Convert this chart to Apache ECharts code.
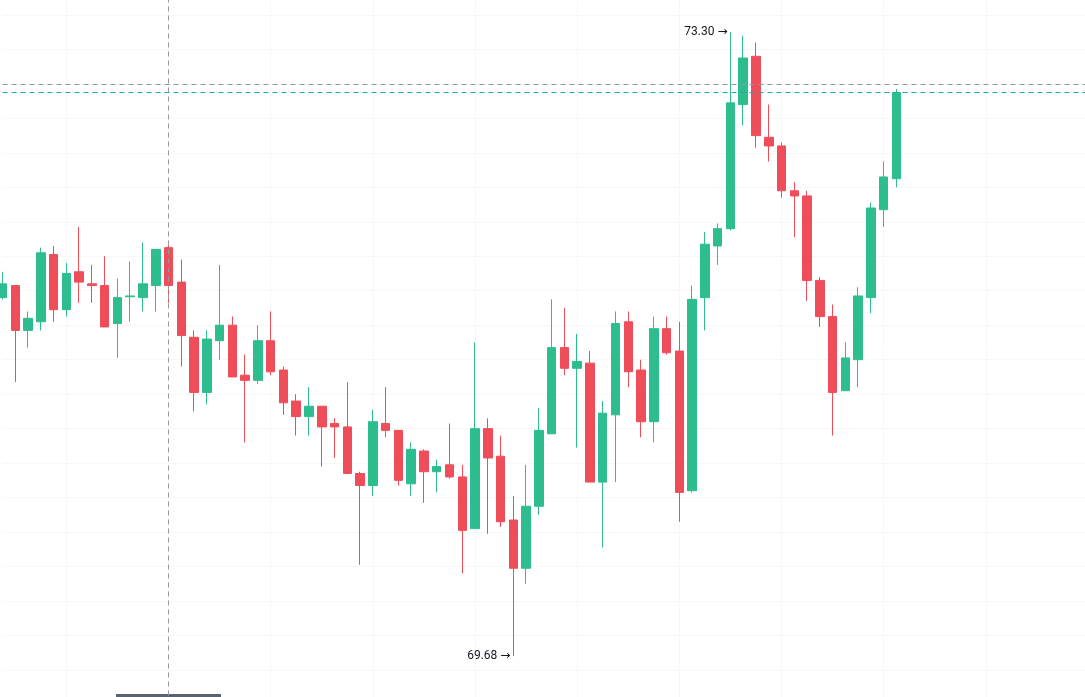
<!DOCTYPE html>
<html>
<head>
<meta charset="utf-8">
<script src="https://cdn.jsdelivr.net/npm/echarts@6/dist/echarts.min.js"></script>
<style>
  html, body { margin: 0; padding: 0; background: #fff; }
  #chart { width: 1085px; height: 697px; }
</style>
</head>
<body>
<div id="chart"></div>
<script>
  // 71 candles, empty slots after them
  const opens = [71.76, 71.83, 71.57, 71.62, 72.01, 71.69, 71.91, 71.84, 71.83, 71.61,
    71.765, 71.76, 71.83, 72.05, 71.85, 71.53, 71.21, 71.51, 71.60, 71.31,
    71.28, 71.51, 71.34, 71.16, 71.07, 71.13, 71.03, 71.01, 70.74, 70.67,
    71.03, 70.99, 70.68, 70.87, 70.75, 70.79, 70.72, 70.42, 71.00, 70.84,
    70.47, 70.19, 70.55, 70.97, 71.47, 71.35, 71.38, 70.69, 71.08, 71.62,
    71.34, 71.04, 71.58, 71.45, 70.64, 71.76, 72.06, 72.16, 72.88, 73.16,
    72.69, 72.64, 72.38, 72.35, 71.86, 71.65, 71.22, 71.40, 71.76, 72.27,
    72.45]
  const closes = [71.84, 71.57, 71.64, 72.02, 71.69, 71.90, 71.85, 71.83, 71.59, 71.76,
    71.77, 71.84, 72.04, 71.83, 71.54, 71.21, 71.52, 71.60, 71.30, 71.28,
    71.51, 71.33, 71.15, 71.07, 71.13, 71.01, 71.01, 70.74, 70.67, 71.04,
    70.99, 70.70, 70.88, 70.75, 70.78, 70.72, 70.41, 71.00, 70.83, 70.46,
    70.19, 70.55, 70.99, 71.47, 71.35, 71.39, 70.69, 71.09, 71.61, 71.33,
    71.04, 71.58, 71.44, 70.63, 71.75, 72.07, 72.16, 72.89, 73.15, 72.70,
    72.64, 72.38, 72.35, 71.86, 71.65, 71.21, 71.41, 71.77, 72.28, 72.46,
    72.95]
  const lows = [71.75, 71.27, 71.47, 71.57, 71.62, 71.65, 71.73, 71.73, 71.59, 71.41,
    71.62, 71.68, 71.68, 71.73, 71.36, 71.10, 71.14, 71.40, 71.30, 70.92,
    71.26, 71.31, 71.08, 70.96, 70.96, 70.78, 70.83, 70.74, 70.21, 70.61,
    70.95, 70.67, 70.61, 70.57, 70.63, 70.71, 70.16, 70.42, 70.39, 70.43,
    69.68, 70.10, 70.50, 70.97, 71.31, 70.89, 70.69, 70.31, 70.69, 71.24,
    70.95, 70.92, 71.43, 70.46, 70.63, 71.57, 71.95, 72.15, 72.76, 72.63,
    72.55, 72.34, 72.11, 71.74, 71.59, 70.96, 71.22, 71.24, 71.67, 72.17,
    72.40]
  const highs = [71.91, 71.83, 71.68, 72.05, 72.06, 71.96, 72.17, 71.95, 72.00, 71.87,
    71.97, 72.08, 72.04, 72.09, 71.98, 71.57, 71.57, 71.95, 71.65, 71.43,
    71.60, 71.68, 71.36, 71.20, 71.24, 71.13, 71.06, 71.27, 70.75, 71.11,
    71.24, 70.99, 70.92, 70.88, 70.82, 71.03, 70.79, 71.50, 71.06, 70.96,
    70.61, 70.79, 71.12, 71.75, 71.70, 71.55, 71.45, 71.16, 71.68, 71.68,
    71.40, 71.65, 71.65, 71.62, 71.83, 72.14, 72.19, 73.30, 73.28, 73.24,
    72.88, 72.66, 72.43, 72.38, 71.88, 71.72, 71.50, 71.82, 72.31, 72.55,
    72.97]
  const slotCount = 86
  const categories = Array.from({ length: slotCount }, (_, i) => String(i + 1))

  const crossIndex = 13     // crosshair candle
  const crossPrice = 72.996 // crosshair price
  const upColor = '#2dbd8e'
  const downColor = '#ef4d5a'
  const gridColor = '#f6f7f9'
  const crossColor = '#9598a1'

  const ohlc = opens.map((o, i) => [o, closes[i], lows[i], highs[i]])
  const lastClose = closes[closes.length - 1]
  const hiVal = Math.max(...highs)
  const hiIdx = highs.indexOf(hiVal)
  const loVal = Math.min(...lows)
  const loIdx = lows.indexOf(loVal)

  const chart = echarts.init(document.getElementById('chart'))
  chart.setOption({
    animation: false,
    backgroundColor: '#ffffff',
    grid: {
      left: 2.5,
      width: 12.771 * (slotCount - 1),
      top: -19.55,
      height: 724,
      outerBoundsMode: 'none',
      containLabel: false
    },
    xAxis: {
      type: 'category',
      data: categories,
      boundaryGap: false,
      axisLine: { show: false },
      axisTick: { show: false },
      axisLabel: { show: false },
      splitLine: {
        show: true,
        interval: (idx) => (idx - 5) % 8 === 0,
        lineStyle: { color: gridColor, width: 1 }
      }
    },
    yAxis: {
      type: 'value',
      scale: true,
      min: 69.4,
      max: 73.6,
      interval: 0.2,
      axisLine: { show: false },
      axisTick: { show: false },
      axisLabel: { show: false },
      splitLine: { lineStyle: { color: gridColor, width: 1 } }
    },
    series: [
      {
        type: 'candlestick',
        data: ohlc,
        barWidth: 9,
        clip: false,
        itemStyle: {
          color: upColor,
          color0: downColor,
          borderColor: upColor,
          borderColor0: downColor,
          borderWidth: 1
        },
        markPoint: {
          symbol: 'circle',
          symbolSize: 0,
          silent: true,
          label: {
            show: true,
            position: 'left',
            distance: 3,
            color: '#131722',
            fontSize: 12,
            fontFamily: 'Roboto, "DejaVu Sans", sans-serif',
            formatter: p => p.value.toFixed(2) + ' →'
          },
          data: [
            { coord: [hiIdx, hiVal], value: hiVal },
            { coord: [loIdx, loVal], value: loVal }
          ]
        }
      },
      {
        // crosshair
        type: 'line',
        data: [],
        silent: true,
        color: crossColor,
        markLine: {
          symbol: ['none', 'none'],
          silent: true,
          label: { show: false },
          lineStyle: { color: crossColor, type: [5, 4], width: 1, opacity: 1 },
          data: [
            { xAxis: crossIndex, lineStyle: { color: crossColor } },
            { yAxis: crossPrice, lineStyle: { color: crossColor } }
          ]
        }
      },
      {
        // last price line
        type: 'line',
        data: [],
        silent: true,
        color: '#22ab94',
        markLine: {
          symbol: ['none', 'none'],
          silent: true,
          label: { show: false },
          lineStyle: { color: '#22ab94', type: [5, 4], width: 1, opacity: 1 },
          data: [{ yAxis: lastClose }]
        }
      }
    ]
  })

  // crosshair time label box, cut off by the bottom edge
  const cx = chart.convertToPixel({ xAxisIndex: 0 }, crossIndex)
  chart.setOption({
    graphic: [{
      type: 'rect',
      shape: { x: cx - 52.5, y: 694, width: 105, height: 20 },
      style: { fill: '#5b6370' }
    }]
  })
</script>
</body>
</html>
